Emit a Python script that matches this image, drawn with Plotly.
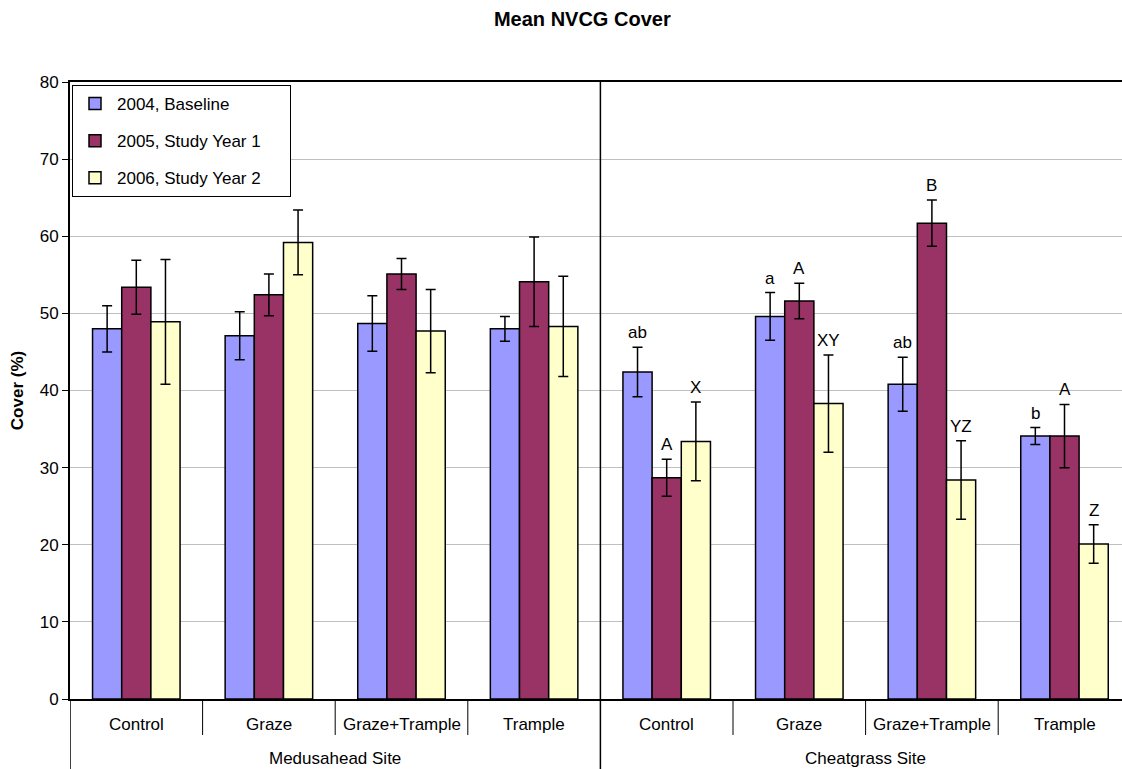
import plotly.graph_objects as go

# ---- data ----
treatments = ["Control", "Graze", "Graze+Trample", "Trample"]
sites = ["Medusahead Site", "Cheatgrass Site"]
series_names = ["2004, Baseline", "2005, Study Year 1", "2006, Study Year 2"]

mean_2004 = [48.0, 47.1, 48.7, 48.0, 42.4, 49.6, 40.8, 34.1]
mean_2005 = [53.4, 52.4, 55.1, 54.1, 28.7, 51.6, 61.7, 34.1]
mean_2006 = [48.9, 59.2, 47.7, 48.3, 33.4, 38.3, 28.4, 20.1]

err_2004 = [3.0, 3.1, 3.6, 1.6, 3.2, 3.1, 3.5, 1.1]
err_2005 = [3.5, 2.7, 2.0, 5.8, 2.4, 2.3, 3.0, 4.1]
err_2006 = [8.1, 4.2, 5.4, 6.5, 5.1, 6.3, 5.1, 2.5]

letters_2004 = ["", "", "", "", "ab", "a", "ab", "b"]
letters_2005 = ["", "", "", "", "A", "A", "B", "A"]
letters_2006 = ["", "", "", "", "X", "XY", "YZ", "Z"]

colors = ["#9999FF", "#993366", "#FFFFCC"]

FONT = "Liberation Sans, Arial, sans-serif"
FS = 17

n_cat = len(sites) * len(treatments)
xpos = list(range(n_cat))

fig = go.Figure()
means = [mean_2004, mean_2005, mean_2006]
errs = [err_2004, err_2005, err_2006]
letters = [letters_2004, letters_2005, letters_2006]

PAD = "\u00a0" * 5  # right padding inside legend box (Excel-style)

for k in range(3):
    fig.add_trace(go.Bar(
        x=xpos, y=means[k], name=series_names[k] + PAD,
        legendgroup=f"g{k}",
        marker=dict(color=colors[k], line=dict(color="black", width=1.5)),
        error_y=dict(type="data", array=errs[k], visible=True,
                     color="black", thickness=1.5, width=5),
    ))

# significance letters
bargap = 0.34
bw = (1 - bargap) / 3
for k in range(3):
    for i in range(n_cat):
        if letters[k][i]:
            fig.add_annotation(
                x=xpos[i] + (k - 1) * bw, y=means[k][i] + errs[k][i],
                text=letters[k][i], showarrow=False, yanchor="bottom",
                yshift=3, font=dict(family=FONT, size=FS, color="black"),
            )

plot_h = 769 - 82 - 70
bottom_px = 70

# category labels
for s, site in enumerate(sites):
    for t, tr in enumerate(treatments):
        i = s * len(treatments) + t
        fig.add_annotation(x=i, y=0, yref="paper", text=tr, showarrow=False,
                           yanchor="middle", yshift=-25,
                           font=dict(family=FONT, size=FS, color="black"))
    center = s * len(treatments) + (len(treatments) - 1) / 2
    fig.add_annotation(x=center, y=0, yref="paper", text=site, showarrow=False,
                       yanchor="middle", yshift=-59,
                       font=dict(family=FONT, size=FS, color="black"))

# divider lines
y_bot_full = -bottom_px / plot_h
y_bot_inner = -36 / plot_h
for s in range(len(sites)):
    for t in range(1, len(treatments)):
        xv = s * len(treatments) + t - 0.5
        fig.add_shape(type="line", xref="x", yref="paper", x0=xv, x1=xv,
                      y0=0, y1=y_bot_inner, line=dict(color="black", width=1))
# site separators
for s in range(len(sites) + 1):
    xv = s * len(treatments) - 0.5
    y1 = 1 if 0 < s < len(sites) else 0
    fig.add_shape(type="line", xref="x", yref="paper", x0=xv, x1=xv,
                  y0=y_bot_full, y1=y1, line=dict(color="black", width=1.5))

fig.update_layout(
    width=1122, height=769,
    margin=dict(l=70, r=0, t=82, b=70),
    paper_bgcolor="white", plot_bgcolor="white",
    barmode="group", bargap=bargap, bargroupgap=0,
    font=dict(family=FONT, size=FS, color="black"),
    title=dict(text="<b>Mean NVCG Cover</b>", x=0.519, xanchor="center",
               y=1 - 19 / 769, yanchor="middle",
               font=dict(family=FONT, size=20, color="black")),
    legend=dict(x=2 / 1052, y=(699 - 85) / plot_h, xanchor="left", yanchor="top",
                bgcolor="white", bordercolor="black", borderwidth=1,
                font=dict(family=FONT, size=FS, color="black"),
                tracegroupgap=12, itemwidth=34),
    showlegend=True,
)
fig.update_xaxes(range=[-0.5, -0.5 + 1052 / 132.6], showticklabels=False,
                 showgrid=False, zeroline=False, showline=True, mirror=True,
                 linecolor="black", linewidth=2, ticks="")
fig.update_yaxes(range=[0, 80], dtick=10, showgrid=True, gridcolor="#c0c0c0",
                 gridwidth=1, zeroline=False, showline=True, linecolor="black",
                 linewidth=2, ticks="outside", ticklen=6, tickcolor="black",
                 tickfont=dict(family=FONT, size=FS, color="black"),
                 title=dict(text="<b>Cover (%)</b>", standoff=12,
                            font=dict(family=FONT, size=FS, color="black")))

fig.write_html("out.html", config={"displayModeBar": False},
               post_script="document.body.style.margin='0';")
